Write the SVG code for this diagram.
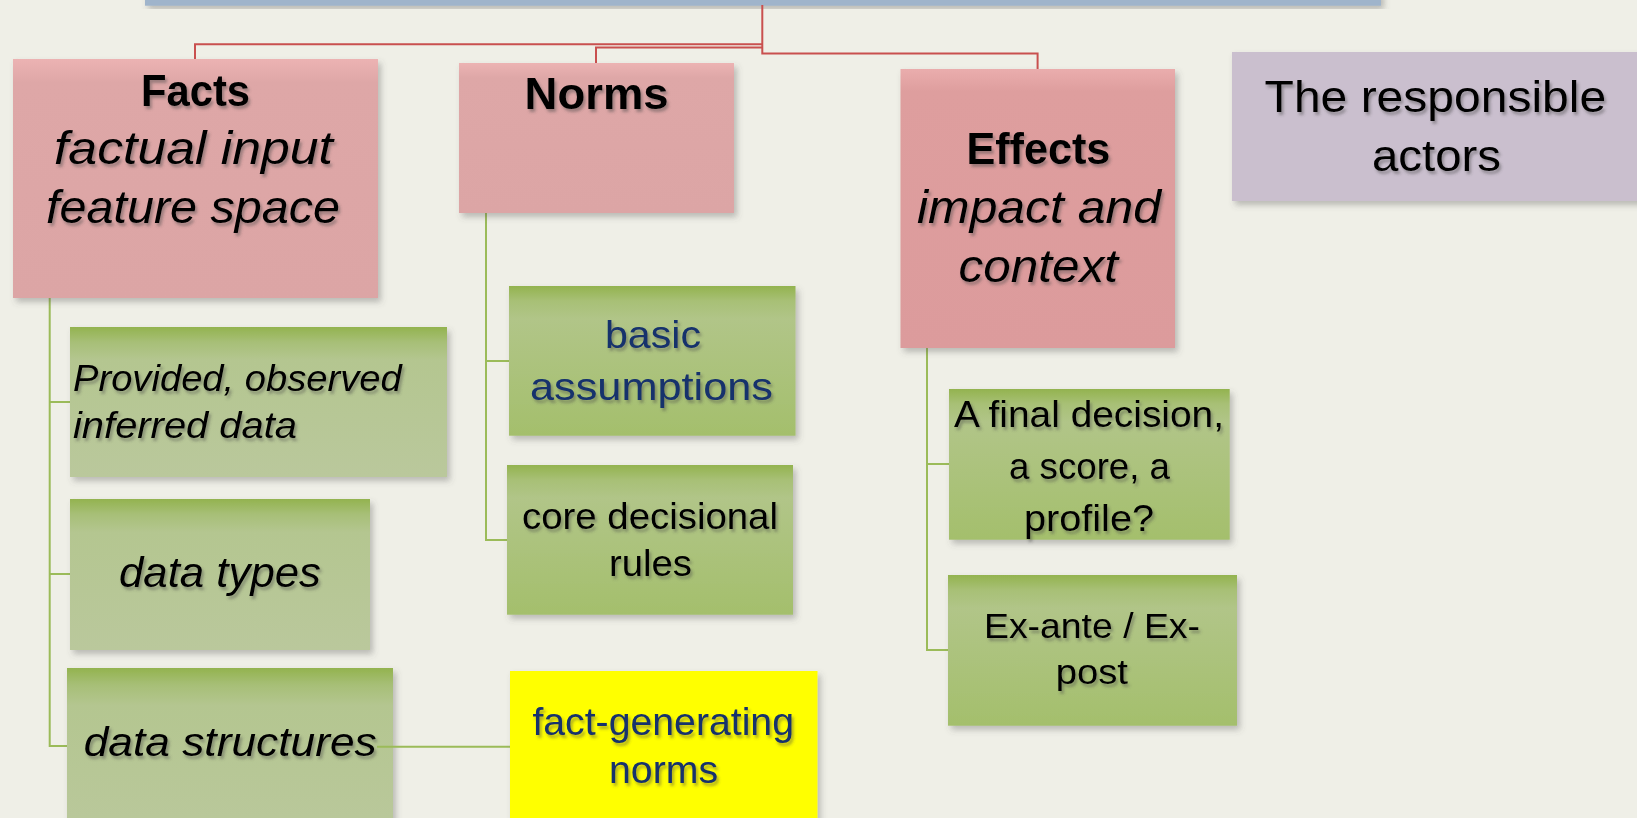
<svg xmlns="http://www.w3.org/2000/svg" width="1637" height="818" viewBox="0 0 1637 818">
<defs>
<filter id="bs" x="-10%" y="-10%" width="125%" height="130%">
<feDropShadow dx="3" dy="4" stdDeviation="3" flood-color="#555" flood-opacity="0.35"/>
</filter>
<filter id="ts" x="-10%" y="-30%" width="120%" height="170%">
<feDropShadow dx="2" dy="3" stdDeviation="1.6" flood-color="#444" flood-opacity="0.45"/>
</filter>
<linearGradient id="gLight" x1="0" y1="0" x2="0" y2="1">
<stop offset="0" stop-color="#93b34f"/>
<stop offset="0.1" stop-color="#a7bf77"/>
<stop offset="0.22" stop-color="#b4c690"/>
<stop offset="1" stop-color="#bac89c"/>
</linearGradient>
<linearGradient id="gSat" x1="0" y1="0" x2="0" y2="1">
<stop offset="0" stop-color="#93b34f"/>
<stop offset="0.1" stop-color="#a8c076"/>
<stop offset="0.22" stop-color="#b1c588"/>
<stop offset="1" stop-color="#a4bf6c"/>
</linearGradient>
<linearGradient id="gPink" x1="0" y1="0" x2="0" y2="1">
<stop offset="0" stop-color="#ecb3b3"/>
<stop offset="0.1" stop-color="#dea7a7"/>
<stop offset="1" stop-color="#dca5a5"/>
</linearGradient>
<linearGradient id="gPink2" x1="0" y1="0" x2="0" y2="1">
<stop offset="0" stop-color="#eaadad"/>
<stop offset="0.08" stop-color="#de9e9e"/>
<stop offset="1" stop-color="#dc9b9c"/>
</linearGradient>
</defs>
<style>
text{font-family:"Liberation Sans","DejaVu Sans",sans-serif;fill:#000;filter:url(#ts);}
.b{font-weight:bold;}
.i{font-style:italic;}
.n{fill:#13306c;}
.red{stroke:#c9504f;stroke-width:2;fill:none;}
.grn{stroke:#9bbb59;stroke-width:2;fill:none;}
.box{filter:url(#bs);}
</style>
<rect width="1637" height="818" fill="#efefe7"/>

<g id="top-bar">
<rect class="box" x="145" y="-10" width="1236" height="15.7" fill="#9fb4cb"/>
</g>

<g id="connectors">
<path class="red" d="M762.3 5 V53.5 H1037.6 V69"/>
<path class="red" d="M762.3 44.3 H195 V59"/>
<path class="red" d="M762.3 47.5 H596 V63"/>
<path class="grn" d="M49.7 298 V746 H67"/>
<path class="grn" d="M49.7 402 H70"/>
<path class="grn" d="M49.7 574 H70"/>
<path class="grn" d="M486 213 V540 H507"/>
<path class="grn" d="M486 361 H509"/>
<path class="grn" d="M927 348 V650 H948"/>
<path class="grn" d="M927 464 H949"/>
</g>

<g id="facts">
<rect class="box" x="13" y="59" width="365" height="239" fill="url(#gPink)"/>
<text class="b" x="141" y="105.5" font-size="45" textLength="109" lengthAdjust="spacingAndGlyphs">Facts</text>
<text class="i" x="54" y="164" font-size="46" textLength="279" lengthAdjust="spacingAndGlyphs">factual input</text>
<text class="i" x="46" y="222.7" font-size="46" textLength="294" lengthAdjust="spacingAndGlyphs">feature space</text>
</g>

<g id="norms">
<rect class="box" x="459" y="63" width="275" height="150" fill="url(#gPink)"/>
<text class="b" x="524.6" y="109.3" font-size="45" textLength="144" lengthAdjust="spacingAndGlyphs">Norms</text>
</g>

<g id="effects">
<rect class="box" x="900.5" y="69" width="274.5" height="279" fill="url(#gPink2)"/>
<text class="b" x="966.4" y="164.3" font-size="45" textLength="144" lengthAdjust="spacingAndGlyphs">Effects</text>
<text class="i" x="917" y="222.7" font-size="46" textLength="244" lengthAdjust="spacingAndGlyphs">impact and</text>
<text class="i" x="958.6" y="281.7" font-size="46" textLength="159.5" lengthAdjust="spacingAndGlyphs">context</text>
</g>

<g id="actors">
<rect class="box" x="1232" y="52" width="410" height="149" fill="#cabfce"/>
<text x="1264.6" y="111.7" font-size="45" textLength="341.5" lengthAdjust="spacingAndGlyphs">The responsible</text>
<text x="1372" y="171" font-size="45" textLength="129" lengthAdjust="spacingAndGlyphs">actors</text>
</g>

<g id="provided">
<rect class="box" x="70" y="327" width="377" height="150" fill="url(#gLight)"/>
<text class="i" x="73" y="390.7" font-size="36" textLength="328.7" lengthAdjust="spacingAndGlyphs">Provided, observed</text>
<text class="i" x="73" y="437.7" font-size="36" textLength="224" lengthAdjust="spacingAndGlyphs">inferred data</text>
</g>

<g id="data-types">
<rect class="box" x="70" y="499" width="300" height="151" fill="url(#gLight)"/>
<text class="i" x="119" y="587.3" font-size="42" textLength="202" lengthAdjust="spacingAndGlyphs">data types</text>
</g>

<g id="data-structures">
<rect class="box" x="67" y="668" width="326" height="170" fill="url(#gLight)"/>
<text class="i" x="83.7" y="756" font-size="41" textLength="293" lengthAdjust="spacingAndGlyphs">data structures</text>
</g>

<g id="connector-fact-norms">
<path class="grn" d="M377 746.7 H510"/>
</g>

<g id="basic-assumptions">
<rect class="box" x="509" y="286" width="286.5" height="149.7" fill="url(#gSat)"/>
<text class="n" x="605" y="347.7" font-size="39" textLength="96" lengthAdjust="spacingAndGlyphs">basic</text>
<text class="n" x="530" y="400" font-size="39" textLength="243" lengthAdjust="spacingAndGlyphs">assumptions</text>
</g>

<g id="core-rules">
<rect class="box" x="507" y="465" width="286" height="149.7" fill="url(#gSat)"/>
<text x="522" y="529.3" font-size="37" textLength="256" lengthAdjust="spacingAndGlyphs">core decisional</text>
<text x="609" y="576" font-size="37" textLength="83" lengthAdjust="spacingAndGlyphs">rules</text>
</g>

<g id="fact-generating">
<rect class="box" x="510" y="671" width="307.5" height="167" fill="#ffff00"/>
<text class="n" x="532.4" y="735" font-size="39" textLength="261.6" lengthAdjust="spacingAndGlyphs">fact-generating</text>
<text class="n" x="609" y="782.7" font-size="39" textLength="109" lengthAdjust="spacingAndGlyphs">norms</text>
</g>

<g id="final-decision">
<rect class="box" x="949" y="389" width="280.7" height="150.7" fill="url(#gSat)"/>
<text x="954" y="427.3" font-size="36" textLength="270" lengthAdjust="spacingAndGlyphs">A final decision,</text>
<text x="1009" y="479" font-size="36" textLength="161" lengthAdjust="spacingAndGlyphs">a score, a</text>
<text x="1024" y="530.7" font-size="36" textLength="130" lengthAdjust="spacingAndGlyphs">profile?</text>
</g>

<g id="ex-ante">
<rect class="box" x="948" y="575" width="289" height="150.7" fill="url(#gSat)"/>
<text x="984" y="637.7" font-size="35" textLength="216" lengthAdjust="spacingAndGlyphs">Ex-ante / Ex-</text>
<text x="1055.7" y="684.3" font-size="35" textLength="72.3" lengthAdjust="spacingAndGlyphs">post</text>
</g>
</svg>
